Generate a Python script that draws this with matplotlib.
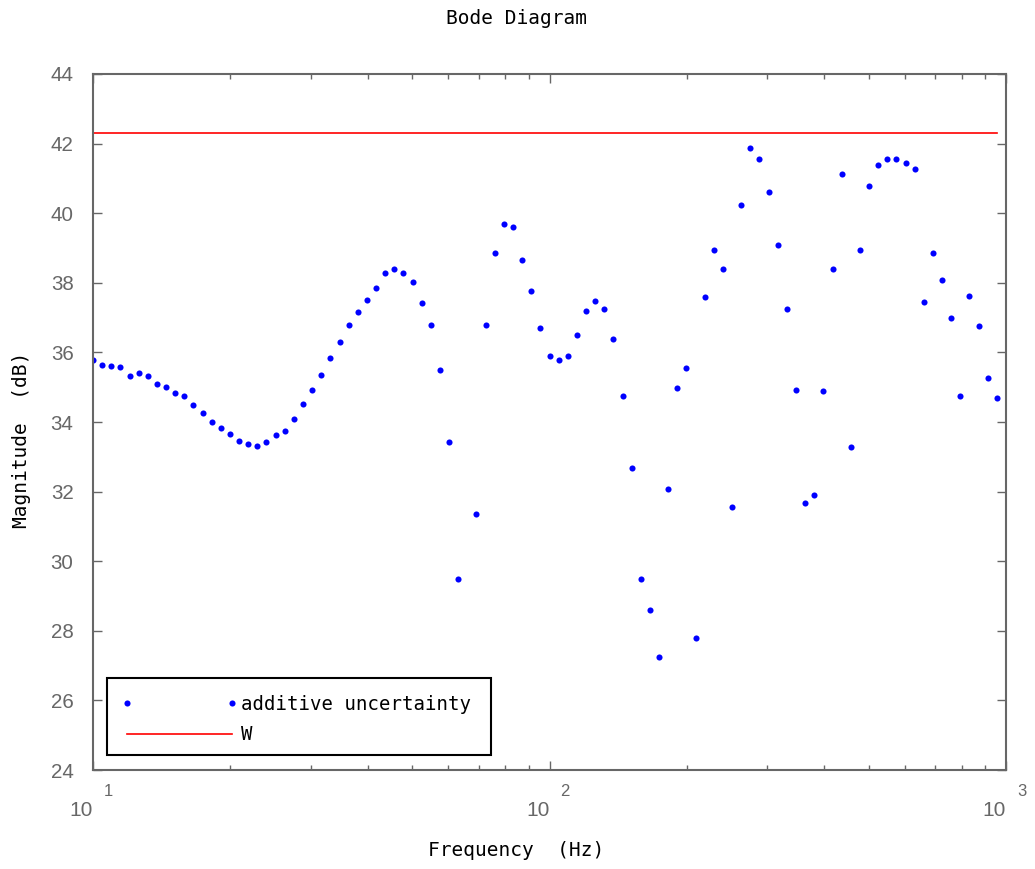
import numpy as np
import matplotlib
matplotlib.use("Agg")
import matplotlib.pyplot as plt
from matplotlib.patches import Rectangle
from matplotlib.lines import Line2D
from matplotlib.legend_handler import HandlerLine2D
import matplotlib.transforms as mtransforms
from matplotlib.ticker import LogLocator, NullFormatter, FixedLocator

# ---------------- data ----------------
# frequency grid (Hz): 100 log-spaced points, 10 Hz .. ~955 Hz
freq = np.logspace(1, 2.98, 100)

# additive uncertainty magnitude (dB)
mag_db = [
    35.77, 35.64, 35.61, 35.57, 35.33, 35.42, 35.33, 35.10, 35.01, 34.84,
    34.74, 34.48, 34.27, 33.99, 33.84, 33.66, 33.46, 33.37, 33.32, 33.42,
    33.62, 33.75, 34.10, 34.52, 34.91, 35.35, 35.84, 36.30, 36.80, 37.16,
    37.51, 37.86, 38.28, 38.40, 38.28, 38.03, 37.42, 36.80, 35.49, 33.42,
    29.49, 21.50, 31.36, 36.80, 38.87, 39.70, 39.60, 38.66, 37.76, 36.71,
    35.90, 35.78, 35.90, 36.49, 37.20, 37.49, 37.26, 36.39, 34.76, 32.67,
    29.50, 28.61, 27.24, 32.08, 34.97, 35.56, 27.79, 37.60, 38.94, 38.40,
    31.55, 40.24, 41.87, 41.56, 40.60, 39.10, 37.26, 34.92, 31.68, 31.90,
    34.90, 38.40, 41.12, 33.29, 38.94, 40.77, 41.39, 41.55, 41.56, 41.45,
    41.27, 37.46, 38.87, 38.09, 36.99, 34.76, 37.62, 36.76, 35.26, 34.68,
]

# weight W (dB), constant over the frequency grid
w_db = [42.30] * len(freq)

series_labels = ["additive uncertainty", "W"]
title_text = "Bode Diagram"
xlabel_text = "Frequency  (Hz)"
ylabel_text = "Magnitude  (dB)"
yticks = [24, 26, 28, 30, 32, 34, 36, 38, 40, 42, 44]
xdecades = [1, 2, 3]

# ---------------- styling ----------------
W_PX, H_PX, DPI = 1035, 869, 100
GRAY = "#676767"
MONO = ["DejaVu Sans Mono"]
NUMF = ["Liberation Sans", "DejaVu Sans"]

fig = plt.figure(figsize=(W_PX / DPI, H_PX / DPI), dpi=DPI)
L, R, T, B = 93, 1006, 74, 770
ax = fig.add_axes([L / W_PX, 1 - B / H_PX, (R - L) / W_PX, (B - T) / H_PX])

ax.semilogx(freq, mag_db, linestyle="none", marker="o", markersize=4.4,
            markeredgewidth=0, color="#0000ff", label=series_labels[0],
            clip_on=True)
ax.semilogx(freq, w_db, color="#ff0000", linewidth=1.2, label=series_labels[1])

ax.set_xlim(10, 1000)
ax.set_ylim(24, 44)

for s in ax.spines.values():
    s.set_color(GRAY)
    s.set_linewidth(1.5)

ax.yaxis.set_major_locator(FixedLocator(yticks))
ax.xaxis.set_major_locator(LogLocator(base=10, numticks=10))
ax.xaxis.set_minor_locator(LogLocator(base=10, subs=np.arange(2, 10), numticks=20))
ax.xaxis.set_major_formatter(NullFormatter())
ax.xaxis.set_minor_formatter(NullFormatter())

ax.tick_params(axis="both", which="major", direction="in", length=6.5,
               width=1.0, color=GRAY, top=True, right=True)
ax.tick_params(axis="x", which="minor", direction="in", length=3.6,
               width=1.0, color=GRAY, top=True, bottom=True)
ax.tick_params(axis="y", which="major", labelsize=14.8, labelcolor=GRAY, pad=14)
for lab in ax.get_yticklabels():
    lab.set_family(NUMF)

# x tick labels in MATLAB style: "10" with raised exponent
trans = mtransforms.blended_transform_factory(ax.transData, fig.transFigure)
for d in xdecades:
    base_off = mtransforms.offset_copy(trans, fig=fig, x=-11.5, y=0, units="dots")
    exp_off = mtransforms.offset_copy(trans, fig=fig, x=15.5, y=0, units="dots")
    ax.text(10 ** d, 1 - 810 / H_PX, "10", transform=base_off, ha="center",
            va="center", fontsize=15, color=GRAY, family=NUMF, clip_on=False)
    ax.text(10 ** d, 1 - 792 / H_PX, str(d), transform=exp_off, ha="center",
            va="center", fontsize=12, color=GRAY, family=NUMF, clip_on=False)

# titles / labels (figure centred like MATLAB)
fig.text(517 / W_PX, 1 - 19 / H_PX, title_text, ha="center", va="center",
         fontsize=14, family=MONO, color="black")
fig.text(516 / W_PX, 1 - 851 / H_PX, xlabel_text, ha="center", va="center",
         fontsize=14, family=MONO, color="black")
fig.text(22 / W_PX, 1 - 440 / H_PX, ylabel_text, ha="center", va="center",
         rotation=90, fontsize=14, family=MONO, color="black")

# legend: manual box + frameless legend centred inside
bx0, by0, bx1, by1 = 107, 678, 491, 755
axw, axh = R - L, B - T
rect = Rectangle(((bx0 - L) / axw, (B - by1) / axh), (bx1 - bx0) / axw,
                 (by1 - by0) / axh, transform=ax.transAxes, facecolor="white",
                 edgecolor="black", linewidth=1.5, zorder=5)
ax.add_patch(rect)
leg = ax.legend(loc="center",
                bbox_to_anchor=(((bx0 + bx1) / 2 - L) / axw, (B - (by0 + by1) / 2 - 3) / axh),
                frameon=False, numpoints=2, handlelength=5.47, handletextpad=0.47,
                labelspacing=0.6, borderpad=0, borderaxespad=0,
                handler_map={Line2D: HandlerLine2D(marker_pad=0)},
                prop={"family": MONO, "size": 13.7})
leg.set_zorder(6)

fig.savefig("out.png", dpi=DPI)
